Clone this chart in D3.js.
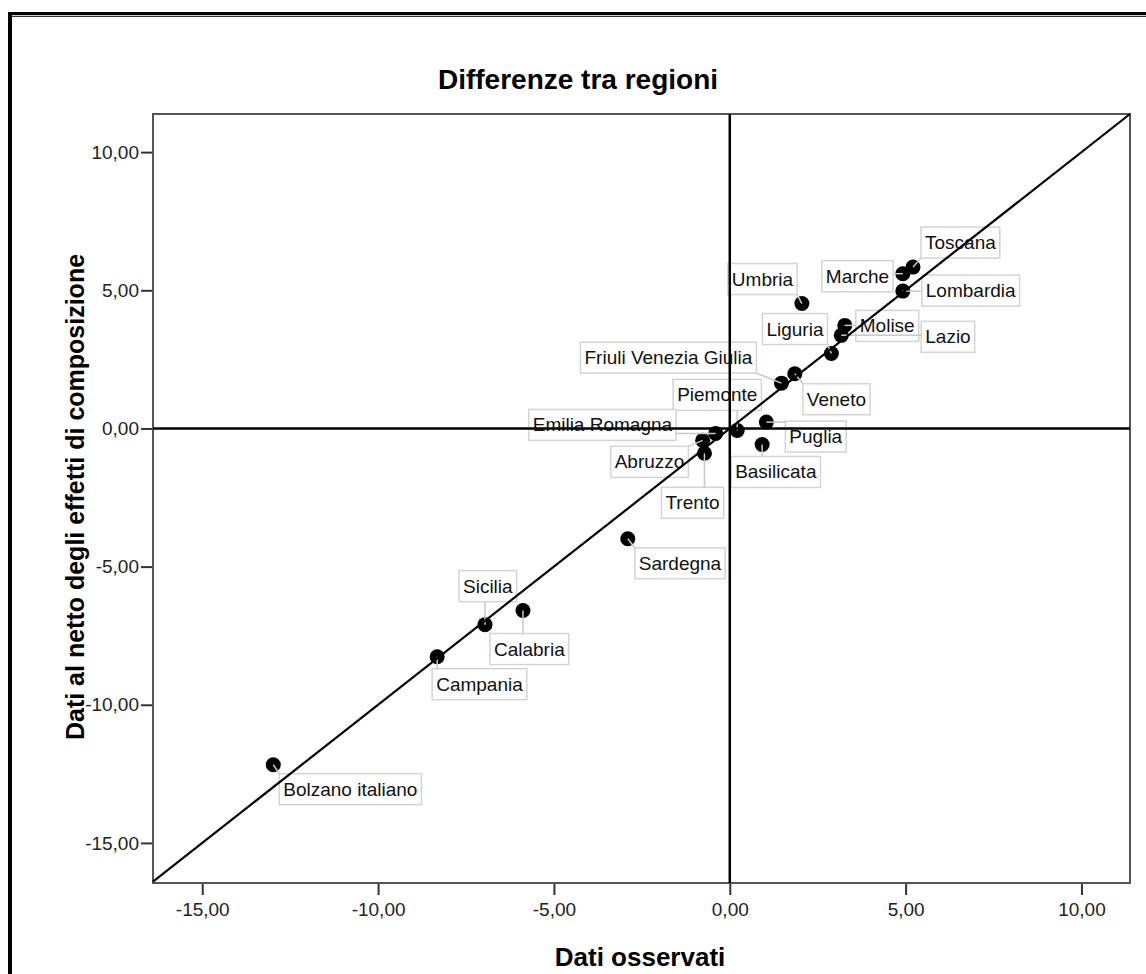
<!DOCTYPE html>
<html>
<head>
<meta charset="utf-8">
<script src="https://cdn.jsdelivr.net/npm/d3@7"></script>
<style>
  body { margin: 0; background: #fff; }
  svg { font-family: "Liberation Sans", Arial, sans-serif; }
</style>
</head>
<body>
<svg id="chart" width="1146" height="974"></svg>
<script>
// Regions and their values (observed vs net of composition effects)
const regions = ['Toscana', 'Marche', 'Lombardia', 'Lazio', 'Molise', 'Liguria', 'Umbria',
    'Friuli Venezia Giulia', 'Veneto', 'Piemonte', 'Puglia', 'Basilicata', 'Emilia Romagna',
    'Abruzzo', 'Trento', 'Sardegna', 'Sicilia', 'Calabria', 'Campania', 'Bolzano italiano'];
const observed = [5.21, 4.92, 4.92, 3.17, 3.27, 2.89, 2.05, 1.47, 1.85, 0.21, 1.04, 0.92,
    -0.40, -0.77, -0.72, -2.90, -6.96, -5.88, -8.32, -12.98];
const net = [5.84, 5.60, 4.97, 3.37, 3.73, 2.71, 4.52, 1.64, 1.98, -0.07, 0.23, -0.58,
    -0.18, -0.43, -0.90, -3.99, -7.10, -6.59, -8.26, -12.17];

// where each label box sits, in pixels from its point (top-left corner)
const labelOffsets = [[8, -40], [-81, -13], [19, -16], [80, -14], [11, -15], [-69, -40], [-74, -40],
    [-201, -41], [8, 10], [-64, -51], [19, -1], [-31, 12], [-187, -24],
    [-92, 6], [-43, 34], [7, 9], [-26, -54], [-33, 23], [-5, 12], [6, 9]];

const xTicks = [-15, -10, -5, 0, 5, 10];
const yTicks = [-15, -10, -5, 0, 5, 10];

const svg = d3.select('#chart');
const plotLeft = 153, plotRight = 1130, plotTop = 114, plotBottom = 883;

const x = d3.scaleLinear().domain([-16.4, 11.38]).range([plotLeft, plotRight]);
const y = d3.scaleLinear().domain([-16.45, 11.38]).range([plotBottom, plotTop]);
const fmt = d => d.toFixed(2).replace('.', ',');

// outer frame
svg.append('line').attr('x1', 8).attr('x2', 1146).attr('y1', 13.5).attr('y2', 13.5)
    .attr('stroke', '#000').attr('stroke-width', 3);
svg.append('line').attr('x1', 12).attr('x2', 1146).attr('y1', 16.3).attr('y2', 16.3)
    .attr('stroke', '#000').attr('stroke-width', 1);
svg.append('line').attr('x1', 10).attr('x2', 10).attr('y1', 12).attr('y2', 974)
    .attr('stroke', '#000').attr('stroke-width', 4);

// title
svg.append('text').attr('x', 578).attr('y', 89).attr('text-anchor', 'middle')
    .attr('font-size', 28).attr('font-weight', 'bold').text('Differenze tra regioni');

// axes
const xAxis = svg.append('g').attr('transform', `translate(0,${plotBottom})`)
    .call(d3.axisBottom(x).tickValues(xTicks).tickFormat(fmt).tickSize(12).tickPadding(8));
const yAxis = svg.append('g').attr('transform', `translate(${plotLeft},0)`)
    .call(d3.axisLeft(y).tickValues(yTicks).tickFormat(fmt).tickSize(12).tickPadding(2));
[xAxis, yAxis].forEach(a => {
    a.select('.domain').remove();
    a.selectAll('.tick line').attr('stroke', '#333').attr('stroke-width', 2);
    a.selectAll('.tick text').attr('font-size', 19).attr('fill', '#222')
        .attr('font-family', '"Liberation Sans", Arial, sans-serif');
});

// plot frame
svg.append('rect').attr('x', plotLeft).attr('y', plotTop)
    .attr('width', plotRight - plotLeft).attr('height', plotBottom - plotTop)
    .attr('fill', 'none').attr('stroke', '#555').attr('stroke-width', 2);

// axis titles
svg.append('text').attr('x', 640).attr('y', 966).attr('text-anchor', 'middle')
    .attr('font-size', 26).attr('font-weight', 'bold').text('Dati osservati');
svg.append('text').attr('transform', 'translate(84,497) rotate(-90)').attr('text-anchor', 'middle')
    .attr('font-size', 25).attr('font-weight', 'bold').text('Dati al netto degli effetti di composizione');

const points = regions.map((name, i) => ({
    name, px: x(observed[i]), py: y(net[i]), off: labelOffsets[i]
}));

// label boxes
const labels = svg.append('g').selectAll('g').data(points).join('g')
    .attr('transform', d => `translate(${d.px + d.off[0]},${d.py + d.off[1]})`);
labels.append('rect').attr('height', 31).attr('fill', '#fff')
    .attr('stroke', '#d4d4d4').attr('stroke-width', 1.5);
labels.append('text').attr('x', 4).attr('y', 22).attr('font-size', 19).attr('fill', '#111')
    .text(d => d.name);
labels.each(function (d) {
    const w = d3.select(this).select('text').node().getComputedTextLength() + 8;
    d3.select(this).select('rect').attr('width', w);
    d.bx = d.px + d.off[0]; d.by = d.py + d.off[1]; d.bw = w; d.bh = 31;
});

// points
svg.append('g').selectAll('circle').data(points).join('circle')
    .attr('cx', d => d.px).attr('cy', d => d.py).attr('r', 7.5).attr('fill', '#000');

// leader lines from point to nearest edge of its box
svg.append('g').selectAll('line').data(points).join('line')
    .attr('x1', d => d.px).attr('y1', d => d.py)
    .attr('x2', d => Math.max(d.bx, Math.min(d.px, d.bx + d.bw)))
    .attr('y2', d => Math.max(d.by, Math.min(d.py, d.by + d.bh)))
    .attr('stroke', '#c8c8c8').attr('stroke-width', 1.5);

// reference lines
const lo = Math.max(x.domain()[0], y.domain()[0]), hi = Math.min(x.domain()[1], y.domain()[1]);
svg.append('line').attr('x1', x(lo)).attr('y1', y(lo)).attr('x2', x(hi)).attr('y2', y(hi))
    .attr('stroke', '#000').attr('stroke-width', 2.2);
svg.append('line').attr('x1', x(0)).attr('x2', x(0)).attr('y1', plotTop).attr('y2', plotBottom)
    .attr('stroke', '#000').attr('stroke-width', 2.5);
svg.append('line').attr('x1', plotLeft).attr('x2', plotRight).attr('y1', y(0)).attr('y2', y(0))
    .attr('stroke', '#000').attr('stroke-width', 2.5);
</script>
</body>
</html>
